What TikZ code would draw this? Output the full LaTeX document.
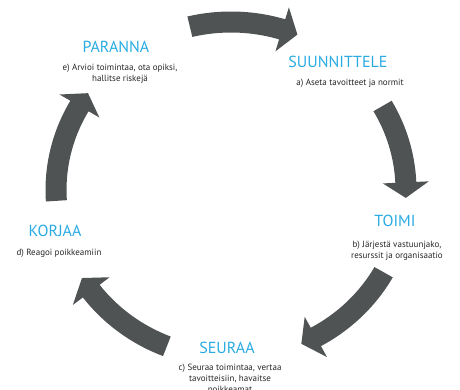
\documentclass[tikz,border=0pt]{standalone}
\usepackage{fontspec}
\setmainfont{PT Sans}
\usepackage{xcolor}
\usetikzlibrary{calc}
\definecolor{cyclegray}{RGB}{79,83,84}
\definecolor{titleblue}{RGB}{41,171,226}
\tikzset{
    phase/.style={text=titleblue, inner sep=0pt, font=\fontsize{16}{18}\selectfont},
    task/.style={align=center, inner sep=0pt, text=black!85, font=\fontsize{9}{11}\selectfont},
}
% one arrow of the cycle: tail angle, head base angle, tip angle
\newcommand{\cyclearrow}[3]{
    \fill[cyclegray] ($(c)+(#1:185.5pt and 178.5pt)$)
        arc[start angle=#1, end angle=#2, x radius=185.5pt, y radius=178.5pt]
        -- ($(c)+(#2:198pt and 191pt)$)
        -- ($(c)+(#3:175pt and 168pt)$)
        -- ($(c)+(#2:152pt and 145pt)$)
        -- ($(c)+(#2:164.5pt and 157.5pt)$)
        arc[start angle=#2, end angle=#1, x radius=164.5pt, y radius=157.5pt]
        -- cycle;
}
\begin{document}
\begin{tikzpicture}[x=1pt, y=1pt]
        \useasboundingbox (0,0) rectangle (460,389);
        \coordinate (c) at (231,199);

        % Arrows round the cycle
        \cyclearrow{103.6}{73}{67.7}
        \cyclearrow{30}{2.6}{-2.7}
        \cyclearrow{-29.3}{-61}{-66.3}
        \cyclearrow{-111.5}{-143}{-148.4}
        \cyclearrow{183.7}{150}{144.8}

        % Names of phases
        \node[phase] (paranna) at (116,342.5) {PARANNA};
        \node[phase] (suunnittele) at (338,327) {SUUNNITTELE};
        \node[phase] (toimi) at (395,168) {TOIMI};
        \node[phase] (seuraa) at (227,41) {SEURAA};
        \node[phase] (korjaa) at (55,158) {KORJAA};

        % What is done in each phase
        \node[task] (tehtE) at (120,315) {e) Arvioi toimintaa, ota opiksi,\\hallitse riskejä};
        \node[task] (tehtA) at (350,306) {a) Aseta tavoitteet ja normit};
        \node[task] (tehtB) at (397,138.5) {b) Järjestä vastuunjako,\\resurssit ja organisaatio};
        \node[task] (tehtC) at (230,10) {c) Seuraa toimintaa, vertaa\\tavoitteisiin, havaitse\\poikkeamat};
        \node[task] (tehtD) at (59,136) {d) Reagoi poikkeamiin};
\end{tikzpicture}
\end{document}
